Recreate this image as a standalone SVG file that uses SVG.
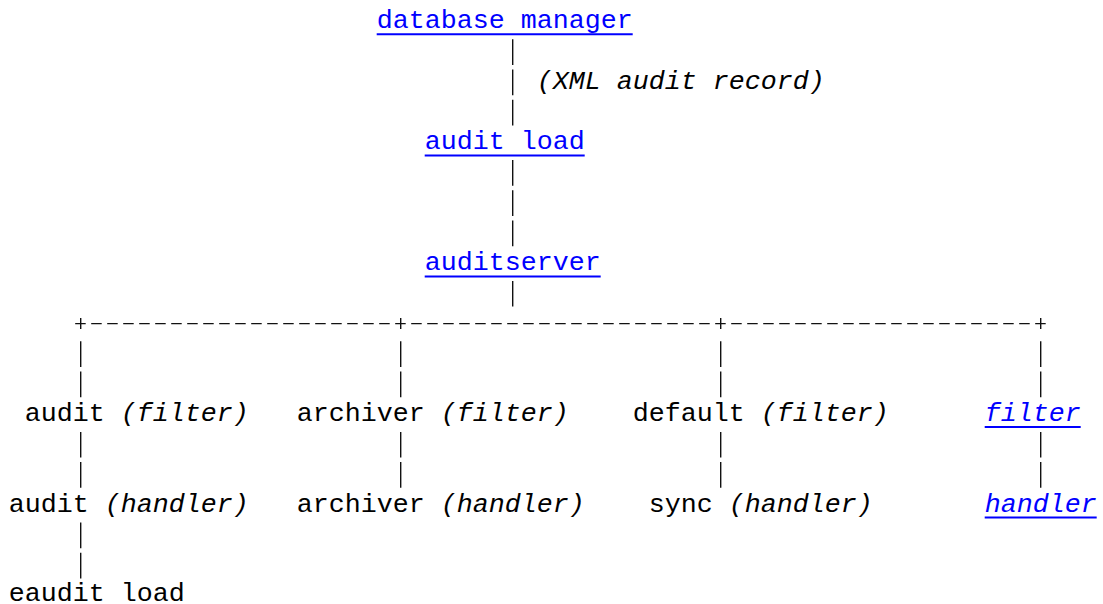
<svg xmlns="http://www.w3.org/2000/svg" width="1103" height="604" viewBox="0 0 1103 604">
<style>
text{font-family:"Liberation Mono","Courier New",monospace;font-size:26.667px;fill:#000;white-space:pre}
.i{font-style:italic}
.lk{fill:#0000ff}
.ul{stroke:#0000ff;stroke-width:2}
.v{stroke:#111;stroke-width:1.4;stroke-dasharray:25.7 4.5;fill:none}
.h{stroke:#111;stroke-width:1.4;stroke-dasharray:10.5 5.5;fill:none}
.p{stroke:#111;stroke-width:1.4;fill:none}
</style>
<rect width="1103" height="604" fill="#fff"/>
<g id="connectors">
<line class="v" x1="512.7" y1="39.3" x2="512.7" y2="125.4"/>
<text x="536.7" y="88.7" class="i">(XML audit record)</text>
<line class="v" x1="512.7" y1="160.1" x2="512.7" y2="246.2"/>
<line class="v" x1="512.7" y1="280.9" x2="512.7" y2="306.6"/>
<line class="h" x1="75.2" y1="323.6" x2="1046.2" y2="323.6"/>
<path class="p" d="M80.7 318.1V329.1M400.7 318.1V329.1M720.7 318.1V329.1M1040.7 318.1V329.1"/>
<line class="v" x1="80.7" y1="341.3" x2="80.7" y2="397.2"/>
<line class="v" x1="400.7" y1="341.3" x2="400.7" y2="397.2"/>
<line class="v" x1="720.7" y1="341.3" x2="720.7" y2="397.2"/>
<line class="v" x1="1040.7" y1="341.3" x2="1040.7" y2="397.2"/>
<line class="v" x1="80.7" y1="431.9" x2="80.7" y2="487.8"/>
<line class="v" x1="400.7" y1="431.9" x2="400.7" y2="487.8"/>
<line class="v" x1="720.7" y1="431.9" x2="720.7" y2="487.8"/>
<line class="v" x1="1040.7" y1="431.9" x2="1040.7" y2="487.8"/>
<line class="v" x1="80.7" y1="522.5" x2="80.7" y2="578.4"/>
</g>
<g id="database-manager"><text x="376.7" y="28.3" class="lk">database manager</text><line class="ul" x1="376.7" y1="34.3" x2="632.7" y2="34.3"/></g>
<g id="audit-load"><text x="424.7" y="149.1" class="lk">audit load</text><line class="ul" x1="424.7" y1="155.4" x2="584.7" y2="155.4"/></g>
<g id="auditserver"><text x="424.7" y="269.9" class="lk">auditserver</text><line class="ul" x1="424.7" y1="276.5" x2="600.7" y2="276.5"/></g>
<g id="audit-filter"><text x="24.7" y="420.9">audit <tspan class="i">(filter)</tspan></text></g>
<g id="archiver-filter"><text x="296.7" y="420.9">archiver <tspan class="i">(filter)</tspan></text></g>
<g id="default-filter"><text x="632.7" y="420.9">default <tspan class="i">(filter)</tspan></text></g>
<g id="filter"><text x="984.7" y="420.9" class="lk i">filter</text><line class="ul" x1="984.7" y1="427" x2="1080.7" y2="427"/></g>
<g id="audit-handler"><text x="8.7" y="511.5">audit <tspan class="i">(handler)</tspan></text></g>
<g id="archiver-handler"><text x="296.7" y="511.5">archiver <tspan class="i">(handler)</tspan></text></g>
<g id="sync-handler"><text x="648.7" y="511.5">sync <tspan class="i">(handler)</tspan></text></g>
<g id="handler"><text x="984.7" y="511.5" class="lk i">handler</text><line class="ul" x1="984.7" y1="517.6" x2="1096.7" y2="517.6"/></g>
<g id="eaudit-load"><text x="8.7" y="601.3">eaudit load</text></g>
</svg>
